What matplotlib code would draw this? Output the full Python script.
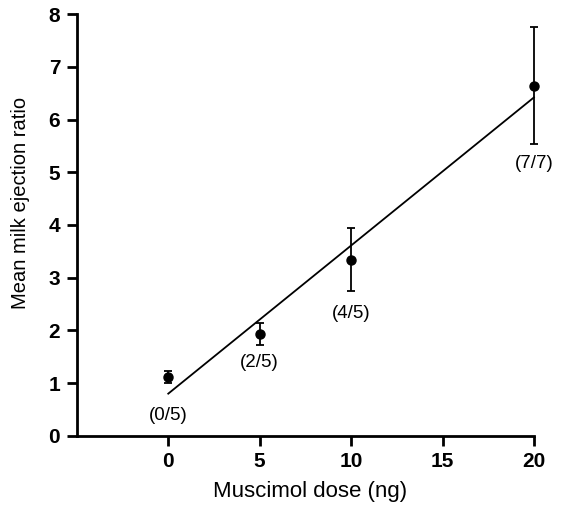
import numpy as np
import matplotlib
matplotlib.use("Agg")
import matplotlib.pyplot as plt

plt.rcParams['font.family'] = ['Liberation Sans', 'DejaVu Sans']

# data
dose = [0, 5, 10, 20]
mean_ratio = [1.12, 1.93, 3.34, 6.64]
sem = [0.11, 0.21, 0.6, 1.11]
responders = ['(0/5)', '(2/5)', '(4/5)', '(7/7)']
label_y = [0.38, 1.4, 2.33, 5.17]

# regression line endpoints
fit_x = [0, 20]
fit_intercept = 0.8
fit_slope = 0.281

fig = plt.figure(figsize=(5.65, 5.05), dpi=100)
ax = fig.add_axes([0.136, 0.137, 0.809, 0.835])

eb = ax.errorbar(dose, mean_ratio, yerr=sem, fmt='o', color='black', ms=6.5,
                 elinewidth=1.3, capsize=3, capthick=1.3)
# keep the last point and its bar visible at the axis edge
eb.lines[0].set_clip_on(False)
for art in list(eb.lines[1]) + list(eb.lines[2]):
    art.set_clip_on(False)
fx = np.array(fit_x)
ax.plot(fx, fit_intercept + fit_slope * fx, color='black', lw=1.3, clip_on=False)

for x, y, t in zip(dose, label_y, responders):
    ax.text(x, y, t, ha='center', va='center', fontsize=13.5)

ax.set_xlim(-5, 20)
ax.set_ylim(0, 8)
ax.set_xticks([0, 5, 10, 15, 20])
ax.set_yticks(range(0, 9))
for s in ['top', 'right']:
    ax.spines[s].set_visible(False)
for s in ['left', 'bottom']:
    ax.spines[s].set_linewidth(2)
ax.tick_params(direction='out', length=7, width=2, labelsize=15, pad=5)
for lab in ax.get_xticklabels() + ax.get_yticklabels():
    lab.set_fontweight('bold')

ax.set_xlabel('Muscimol dose (ng)', fontsize=16)
ax.xaxis.set_label_coords(0.51, -0.108)
ax.set_ylabel('Mean milk ejection ratio', fontsize=14.5)
ax.yaxis.set_label_coords(-0.102, 0.552)

fig.savefig('out.png', dpi=100)
